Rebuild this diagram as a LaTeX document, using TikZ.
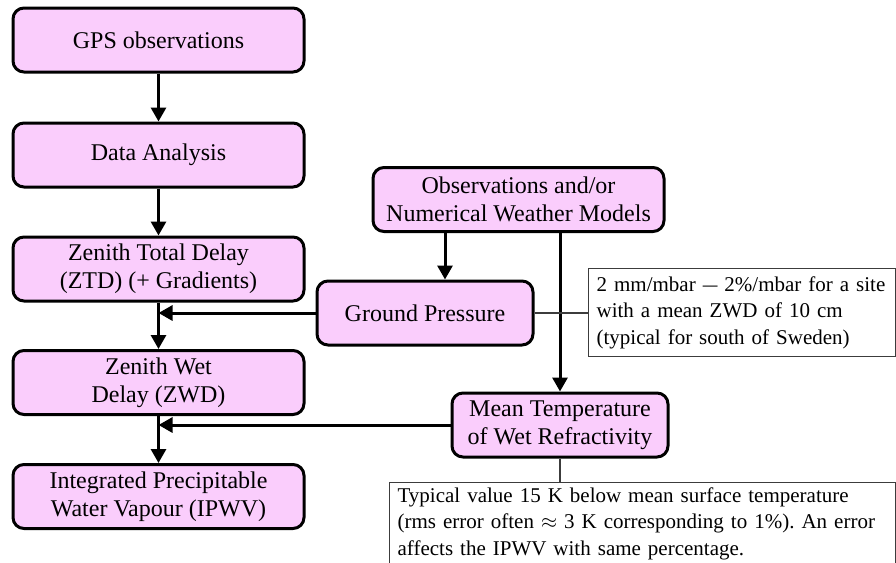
\documentclass[tikz,border=0pt]{standalone}
\usepackage{fontspec}
\usepackage{graphicx}
\setmainfont{Liberation Serif}
\usetikzlibrary{arrows.meta}
\definecolor{boxpink}{RGB}{250,205,252}
\definecolor{notegray}{RGB}{60,60,60}
\begin{document}
\frenchspacing
\begin{tikzpicture}[x=1pt,y=-1pt,
  box/.style={draw=black, line width=3pt, fill=boxpink, rounded corners=11pt, align=center, inner sep=0pt, font=\fontsize{24}{28}\selectfont},
  wide/.style={box, minimum width=291pt, minimum height=64pt},
  narrow/.style={box, minimum width=216pt, minimum height=64pt},
  note/.style={draw=notegray, line width=1.2pt, fill=white, align=left, anchor=north west, font=\fontsize{21}{26.5}\selectfont, inner xsep=8pt},
  arr/.style={line width=3pt, -{Triangle[length=14pt,width=15pt]}},
  noteline/.style={draw=notegray, line width=1.2pt}]
\clip (0,0) rectangle (896,562);
\fill[white] (0,0) rectangle (896,562);
\node[wide] (gps) at (158.5,40) {GPS observations};
\node[wide] (da) at (158.5,155) {Data Analysis};
\node[wide] (ztd) at (158.5,269) {Zenith Total Delay\\(ZTD) (+ Gradients)};
\node[wide] (zwd) at (158.5,382.5) {Zenith Wet\\Delay (ZWD)};
\node[wide] (ipwv) at (158.5,496.5) {Integrated Precipitable\\Water Vapour (IPWV)};
\node[wide] (obs) at (518.5,199.5) {Observations and/or\\Numerical Weather Models};
\node[narrow] (gp) at (425,313) {Ground Pressure};
\node[narrow] (mt) at (560,425) {Mean Temperature\\of Wet Refractivity};
\node[note, minimum width=307pt, minimum height=88pt, text width=291pt] (n1) at (588,268)
  {\mbox{2 mm/mbar \scalebox{0.7}[1]{—} 2\%/mbar for a site}\\with a mean ZWD of 10 cm\\(typical for south of Sweden)};
\node[note, text width=490pt, inner ysep=5pt] (n2) at (389,482)
  {Typical value 15 K below mean surface temperature\\(rms error often $\approx$ 3 K corresponding to 1\%). An error\\affects the IPWV with same percentage.\\[20pt]\mbox{}};
\draw[arr] (gps) -- (da);
\draw[arr] (da) -- (ztd);
\draw[arr] (ztd) -- (zwd);
\draw[arr] (zwd) -- (ipwv);
\draw[arr] (gp.west) -- (gp.west -| ztd.south);
\draw[arr] (mt.west) -- (mt.west -| zwd.south);
\coordinate (gpin) at ([xshift=20pt]gp.north);
\draw[arr] (obs.south -| gpin) -- (gpin);
\draw[arr] (obs.south -| mt.north) -- (mt.north);
\draw[noteline] (gp.east) -- (gp.east -| n1.west);
\draw[noteline] (mt.south) -- (mt.south |- n2.north);
\end{tikzpicture}
\end{document}
